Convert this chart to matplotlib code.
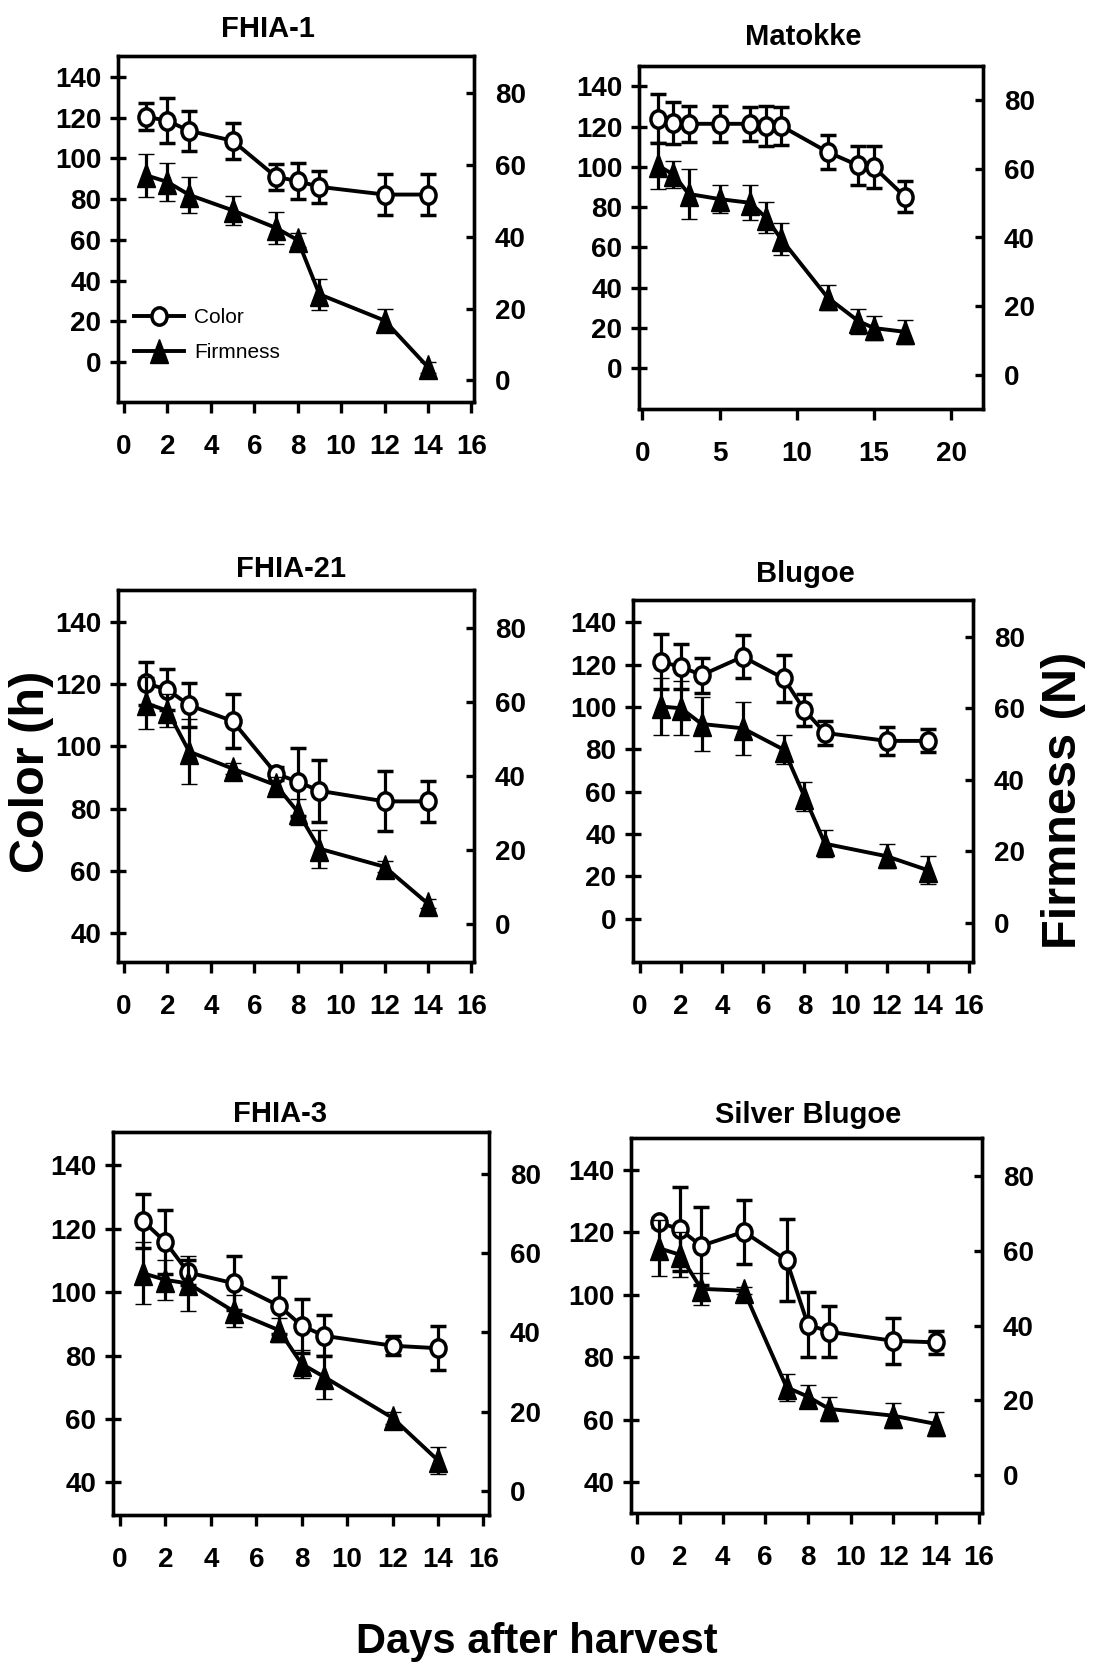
import matplotlib
matplotlib.use('Agg')
import matplotlib.pyplot as plt
from matplotlib.markers import MarkerStyle
from matplotlib.transforms import Affine2D

plt.rcParams['font.family'] = ['Liberation Sans', 'DejaVu Sans']
plt.rcParams['font.weight'] = 'bold'

# days after harvest
days = [1, 2, 3, 5, 7, 8, 9, 12, 14]
days_matokke = [1, 2, 3, 5, 7, 8, 9, 12, 14, 15, 17]

color_fhia1 = [120.4, 118.4, 113.5, 108.6, 90.9, 88.8, 86.0, 82.2, 82.2]
color_err_fhia1 = [6.7, 11.0, 9.8, 8.8, 6.4, 8.8, 8.0, 9.9, 10.0]
firm_fhia1 = [57.2, 55.3, 51.7, 47.4, 42.5, 39.1, 24.0, 16.7, 3.7]
firm_err_fhia1 = [6.0, 5.3, 5.0, 4.0, 4.5, 2.0, 4.4, 3.3, 1.5]

color_matokke = [124.0, 121.8, 121.4, 121.4, 121.4, 120.3, 120.3, 107.4, 100.7, 99.9, 85.3]
color_err_matokke = [12.0, 10.2, 8.9, 8.9, 8.3, 10.0, 9.4, 8.3, 9.5, 10.6, 7.7]
firm_matokke = [61.0, 58.4, 52.7, 51.2, 50.1, 45.8, 39.5, 22.5, 15.6, 13.6, 12.5]
firm_err_matokke = [6.8, 3.9, 7.2, 4.2, 5.1, 4.5, 4.7, 3.6, 3.6, 3.4, 3.5]

color_fhia21 = [120.2, 118.2, 113.2, 108.1, 91.2, 88.6, 85.7, 82.3, 82.3]
color_err_fhia21 = [7.0, 6.5, 7.0, 8.7, 2.0, 11.0, 10.0, 9.6, 6.5]
firm_fhia21 = [59.7, 57.7, 46.6, 42.0, 37.5, 30.3, 20.3, 15.4, 5.4]
firm_err_fhia21 = [7.0, 4.5, 8.8, 1.5, 2.2, 3.6, 5.2, 1.5, 1.2]

color_blugoe = [121.4, 119.0, 115.1, 123.8, 113.5, 98.5, 87.8, 84.0, 84.0]
color_err_blugoe = [13.0, 10.6, 8.3, 10.2, 10.9, 7.6, 5.8, 6.7, 5.4]
firm_blugoe = [60.5, 60.0, 55.6, 54.4, 48.4, 35.3, 22.1, 18.6, 14.7]
firm_err_blugoe = [8.0, 7.5, 7.6, 7.4, 4.1, 4.1, 3.7, 3.4, 3.9]

color_fhia3 = [122.5, 115.8, 106.2, 102.8, 95.7, 89.4, 86.2, 83.1, 82.3]
color_err_fhia3 = [8.5, 10.0, 4.0, 8.5, 9.0, 8.5, 6.5, 3.0, 7.0]
firm_fhia3 = [54.9, 53.2, 52.3, 45.3, 40.5, 32.0, 28.7, 18.4, 7.7]
firm_err_fhia3 = [7.8, 5.0, 7.0, 4.1, 3.0, 3.6, 5.6, 1.5, 3.4]

color_silver = [123.2, 121.0, 115.7, 120.2, 111.1, 90.5, 88.2, 85.3, 84.8]
color_err_silver = [1.5, 13.4, 12.5, 10.3, 13.1, 10.5, 8.1, 7.4, 3.6]
firm_silver = [60.7, 58.9, 49.8, 49.3, 23.5, 21.0, 17.7, 15.9, 13.7]
firm_err_silver = [7.5, 6.0, 4.2, 1.0, 3.6, 3.1, 3.3, 3.3, 3.2]

W, H = 1096, 1664

# name, x, color, color err, firmness, firmness err, box px (l, t, r, b),
# xlim, left ylim, right ylim, xticks, left yticks, title pos (x, baseline)
panels = [
    ('FHIA-1', days, color_fhia1, color_err_fhia1, firm_fhia1, firm_err_fhia1,
     (118, 56, 474, 402), (-0.28, 16.12), (-19.6, 150.2), (-6.0, 90.4),
     range(0, 17, 2), range(0, 141, 20), (268, 37)),
    ('Matokke', days_matokke, color_matokke, color_err_matokke, firm_matokke, firm_err_matokke,
     (639, 66, 983, 409), (-0.22, 22.07), (-20.2, 150.1), (-10.0, 90.0),
     range(0, 21, 5), range(0, 141, 20), (803, 45)),
    ('FHIA-21', days, color_fhia21, color_err_fhia21, firm_fhia21, firm_err_fhia21,
     (118, 590, 474, 962), (-0.28, 16.12), (30.7, 150.2), (-10.4, 90.4),
     range(0, 17, 2), range(40, 141, 20), (291, 577)),
    ('Blugoe', days, color_blugoe, color_err_blugoe, firm_blugoe, firm_err_blugoe,
     (633, 600, 973, 962), (-0.34, 16.2), (-20.5, 150.6), (-11.0, 90.3),
     range(0, 17, 2), range(0, 141, 20), (805, 582)),
    ('FHIA-3', days, color_fhia3, color_err_fhia3, firm_fhia3, firm_err_fhia3,
     (113, 1132, 489, 1515), (-0.31, 16.25), (29.7, 150.5), (-6.1, 90.5),
     range(0, 17, 2), range(40, 141, 20), (280, 1122)),
    ('Silver Blugoe', days, color_silver, color_err_silver, firm_silver, firm_err_silver,
     (631, 1138, 982, 1513), (-0.29, 16.16), (30.2, 150.2), (-10.1, 90.1),
     range(0, 17, 2), range(40, 141, 20), (808, 1123)),
]

circle = MarkerStyle('o', transform=Affine2D().scale(0.87, 1.0))
triangle = MarkerStyle('^', transform=Affine2D().scale(0.75, 1.0))

fig = plt.figure(figsize=(W / 100, H / 100), dpi=100)

for i, (name, x, col, col_err, firm, firm_err, box, xlim, ylim, ylim2,
        xt, yt, tpos) in enumerate(panels):
    l, t, r, b = box
    ax = fig.add_axes([l / W, 1 - b / H, (r - l) / W, (b - t) / H])
    ax2 = ax.twinx()

    c = ax.errorbar(x, col, yerr=col_err, marker=circle, ms=12.5, mfc='white',
                    mec='black', mew=2.5, color='black', lw=2.8, elinewidth=2.3,
                    capsize=6, capthick=2.5)
    f = ax2.errorbar(x, firm, yerr=firm_err, marker=triangle, ms=17, mfc='black',
                     mec='black', mew=1, color='black', lw=2.8, elinewidth=2.3,
                     capsize=6, capthick=2.5)

    ax.set_xlim(*xlim)
    ax.set_ylim(*ylim)
    ax2.set_ylim(*ylim2)
    ax.set_xticks(list(xt))
    ax.set_yticks(list(yt))
    ax2.set_yticks(range(0, 81, 20))

    for s in ax.spines.values():
        s.set_linewidth(2.4)
    for s in ax2.spines.values():
        s.set_linewidth(2.4)

    ax.tick_params(axis='x', direction='out', length=8, width=2.4, labelsize=20, pad=15)
    ax.tick_params(axis='y', direction='inout', length=12, width=2.4, labelsize=20, pad=6)
    ax2.tick_params(axis='y', direction='in', length=6, width=2.4, labelsize=20, pad=15)

    fig.text(tpos[0] / W, 1 - tpos[1] / H, name, fontsize=21, ha='center', va='baseline')

    if i == 0:
        ax2.legend([c[0], f[0]], ['Color', 'Firmness'], loc='lower left',
                   bbox_to_anchor=(0.045, 0.116), borderaxespad=0, borderpad=0,
                   frameon=False, handlelength=2.4, handletextpad=0.5,
                   labelspacing=0.75, prop={'size': 15, 'weight': 'normal'})

fig.text(32 / W, 1 - 772 / H, 'Color (h)', rotation=90, fontsize=35,
         ha='center', va='center')
fig.text(1063 / W, 1 - 800 / H, 'Firmness (N)', rotation=90, fontsize=35,
         ha='center', va='center')
fig.text(537 / W, 1 - 1653 / H, 'Days after harvest', fontsize=30,
         ha='center', va='baseline')

fig.savefig('out.png', dpi=100)
